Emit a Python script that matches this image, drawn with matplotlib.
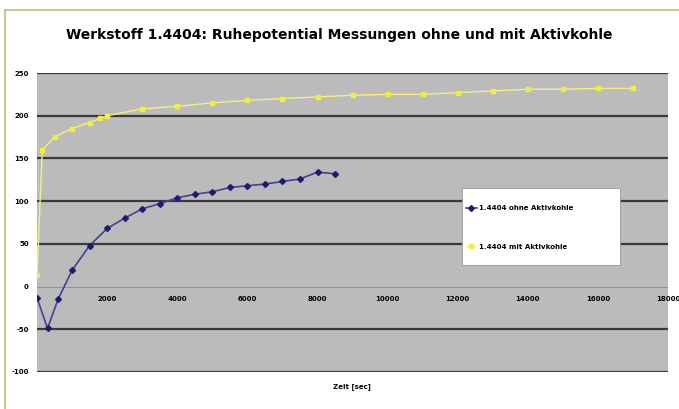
import matplotlib.pyplot as plt
from matplotlib.lines import Line2D
from matplotlib.patches import Rectangle

# values
zeit_ohne = [0, 300, 600, 1000, 1500, 2000, 2500, 3000, 3500, 4000, 4500,
             5000, 5500, 6000, 6500, 7000, 7500, 8000, 8500]
pot_ohne = [-13, -49, -15, 19, 48, 68, 80, 91, 97, 104, 108,
            111, 116, 118, 120, 123, 126, 134, 132]

zeit_mit = [0, 150, 500, 1000, 1500, 1800, 2000, 3000, 4000, 5000, 6000,
            7000, 8000, 9000, 10000, 11000, 12000, 13000, 14000, 15000,
            16000, 17000]
pot_mit = [13, 160, 175, 185, 192, 197, 200, 208, 211, 215, 218,
           220, 222, 224, 225, 225, 227, 229, 231, 231, 232, 232]

x_ticks = [0, 2000, 4000, 6000, 8000, 10000, 12000, 14000, 16000, 18000]
y_ticks = [-100, -50, 0, 50, 100, 150, 200, 250]

fig = plt.figure(figsize=(6.79, 4.09), dpi=100)
ax = fig.add_axes([0.0545, 0.0905, 0.9295, 0.731])
ax.set_facecolor("#bbbbbb")

# x axis crosses at zero (set before the tick labels, it resets them)
ax.spines["bottom"].set_position(("data", 0))
ax.spines["bottom"].set_visible(False)
for s in ["top", "right", "left"]:
    ax.spines[s].set_visible(False)

# horizontal grid lines (Excel style)
for y in y_ticks:
    if y == 0:
        continue
    ax.axhline(y, color="#3a3a3a", lw=1.6, zorder=1)
ax.axhline(0, color="#8a8a8a", lw=0.6, zorder=1)

ax.plot(zeit_mit, pot_mit, color="#f4f07a", lw=1.0, marker="s", ms=3.5,
        mfc="#f2ee3c", mec="#f2ee3c", zorder=3)
ax.plot(zeit_ohne, pot_ohne, color="#42428f", lw=1.2, marker="D", ms=3,
        mfc="#1c1c6e", mec="#1c1c6e", zorder=4)

ax.set_xlim(0, 18000)
ax.set_ylim(-100, 250)
ax.set_yticks(y_ticks)
ax.set_yticklabels([str(v) for v in y_ticks], fontsize=5, fontweight="bold")
ax.set_xticks(x_ticks)
ax.set_xticklabels([""] + [str(v) for v in x_ticks[1:]], fontsize=5,
                   fontweight="bold")
ax.tick_params(axis="x", length=0, pad=7)
ax.tick_params(axis="y", length=0, pad=6)

fig.text(0.518, 0.056, "Zeit [sec]", ha="center", va="center", fontsize=5,
         fontweight="bold")
fig.text(0.5, 0.915, "Werkstoff 1.4404: Ruhepotential Messungen ohne und mit Aktivkohle",
         ha="center", va="center", fontsize=10, fontweight="bold")

# legend box
ax.add_patch(Rectangle((0.6735, 0.358), 0.2505, 0.257, transform=ax.transAxes,
                       facecolor="white", edgecolor="#9a9a9a", lw=0.6,
                       zorder=5))
handles = [
    Line2D([], [], color="#42428f", lw=1.2, marker="D", ms=3,
           mfc="#1c1c6e", mec="#1c1c6e"),
    Line2D([], [], color="#f4f07a", lw=1.0, marker="s", ms=3.5,
           mfc="#f2ee3c", mec="#f2ee3c"),
]
leg = ax.legend(handles, ["1.4404 ohne Aktivkohle", "1.4404 mit Aktivkohle"],
                loc="upper left", bbox_to_anchor=(0.674, 0.57),
                prop={"size": 5, "weight": "bold"}, labelspacing=4.7,
                handlelength=1.6, handletextpad=0.3, frameon=False,
                borderpad=0)
leg.set_zorder(6)

# figure frame
fig.add_artist(Line2D([5 / 679, 5 / 679], [0, 1 - 10 / 409],
                      transform=fig.transFigure, color="#b9c27d", lw=1.2))
fig.add_artist(Line2D([5 / 679, 1], [1 - 10 / 409, 1 - 10 / 409],
                      transform=fig.transFigure, color="#b9c27d", lw=1.2))

fig.savefig("out.png", dpi=100)
